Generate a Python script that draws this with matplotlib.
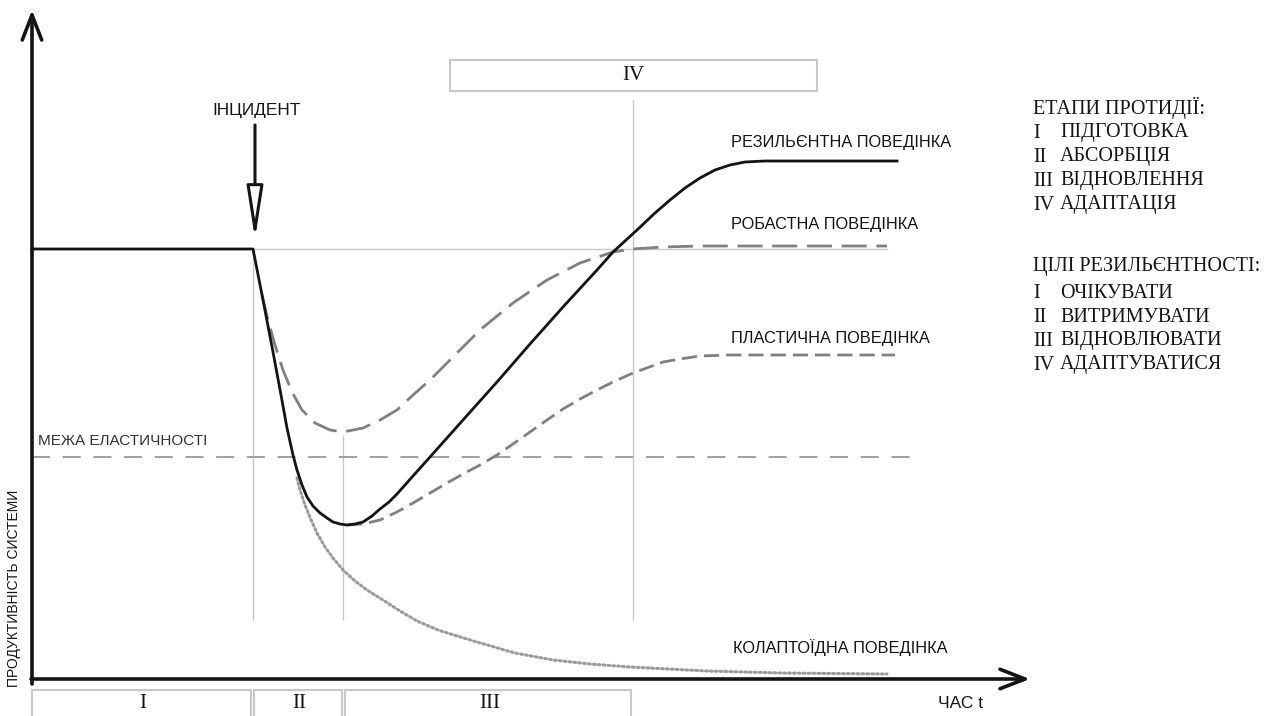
import matplotlib
matplotlib.use("Agg")
import matplotlib.pyplot as plt
from matplotlib.patches import Rectangle

# ---------- data (time t, system performance P) ----------
baseline_t = [0, 221]
baseline_p = [434, 434]

resilient_t = [221, 231, 241, 249, 255, 261, 265, 270, 275, 281, 288, 295, 301, 308, 315,
               323, 331, 340, 348, 357, 365, 373, 381, 398, 431, 465, 498, 531, 565,
               581, 605, 623, 638, 653, 668, 683, 698, 713, 733, 768, 865]
resilient_p = [434, 383, 331, 288, 255, 228, 213, 198, 186, 177, 170, 165, 161, 159, 158,
               159, 161, 167, 174, 181, 189, 198, 207, 226, 263, 301, 339, 376, 413,
               431, 453, 470, 483, 495, 505, 513, 518, 521, 522, 522, 522]

robust_t = [230, 236, 243, 251, 260, 270, 283, 298, 311, 331, 348, 365, 381, 398, 423,
            448, 481, 515, 548, 581, 601, 631, 668, 855]
robust_p = [388, 363, 338, 313, 291, 273, 260, 253, 251, 255, 263, 273, 288, 303, 328,
            353, 380, 403, 420, 431, 434, 436, 437, 437]

plastic_t = [315, 331, 348, 365, 381, 398, 415, 431, 448, 465, 481, 498, 515, 531, 548,
             565, 583, 601, 631, 648, 668, 698, 863]
plastic_p = [158, 159, 163, 171, 180, 190, 200, 209, 218, 228, 239, 251, 263, 274, 284,
             293, 302, 310, 321, 324, 327, 328, 328]

collapse_t = [265, 268, 273, 279, 285, 293, 301, 311, 323, 335, 351, 368, 385, 406, 425,
              445, 483, 521, 558, 598, 675, 751, 855]
collapse_p = [205, 193, 178, 163, 150, 136, 125, 113, 102, 93, 83, 72, 62, 53, 47,
              41, 30, 23, 19, 16, 12, 10, 9]

elastic_limit = 226
elastic_end = 886
incident_t = 221
min_t = 311
adapt_t = 601

phase_names = ["I", "II", "III"]
phase_edges = [0, 222, 313, 602]
phase4_span = [418, 785]

stages_title = "ЕТАПИ ПРОТИДІЇ:"
stages = ["ПІДГОТОВКА", "АБСОРБЦІЯ", "ВІДНОВЛЕННЯ", "АДАПТАЦІЯ"]
goals_title = "ЦІЛІ РЕЗИЛЬЄНТНОСТІ:"
goals = ["ОЧІКУВАТИ", "ВИТРИМУВАТИ", "ВІДНОВЛЮВАТИ", "АДАПТУВАТИСЯ"]
roman = ["I", "II", "III", "IV"]

SANS = ["Liberation Sans", "DejaVu Sans"]
SERIF = ["Liberation Serif", "DejaVu Serif"]
BLACK = "#141414"
GREY = "#808080"
LIGHT = "#c8c8c8"

fig = plt.figure(figsize=(12.75, 7.16), dpi=100)
ax = fig.add_axes([0, 0, 1, 1])
ax.set_xlim(-32, 1243)
ax.set_ylim(-33, 683)
ax.axis("off")

# guide lines
ax.plot([incident_t, robust_t[-1]], [434, 434], color=LIGHT, lw=1.0, zorder=1)
ax.vlines([incident_t], 63, 434, color=LIGHT, lw=1.0, zorder=1)
ax.vlines([min_t], 63, 248, color=LIGHT, lw=1.0, zorder=1)
ax.vlines([adapt_t], 63, 583, color=LIGHT, lw=1.0, zorder=1)
ax.plot([0, elastic_end], [elastic_limit, elastic_limit], color="#999999", lw=1.3,
        linestyle=(0, (10, 7)), zorder=1)

# curves
ax.plot(collapse_t, collapse_p, color="#9a9a9a", lw=2.2, linestyle=(0, (0.6, 1.0)),
        dash_capstyle="round", zorder=2)
ax.plot(plastic_t, plastic_p, color=GREY, lw=2.0, linestyle=(0, (5.5, 2.5)), zorder=2)
ax.plot(robust_t, robust_p, color=GREY, lw=2.0, linestyle=(0, (9, 3.5)), zorder=2)
ax.plot(baseline_t + resilient_t[1:], baseline_p + resilient_p[1:], color=BLACK,
        lw=2.0, zorder=3, solid_joinstyle="round")

# axes arrows
ax.annotate("", xy=(0, 673), xytext=(0, -1),
            arrowprops=dict(arrowstyle="->,head_length=0.9,head_width=0.35",
                            lw=2.6, color=BLACK, mutation_scale=20, shrinkA=0, shrinkB=0))
ax.annotate("", xy=(998, 4), xytext=(-1, 4),
            arrowprops=dict(arrowstyle="->,head_length=0.9,head_width=0.35",
                            lw=2.6, color=BLACK, mutation_scale=20, shrinkA=0, shrinkB=0))

# incident arrow
ax.annotate("", xy=(incident_t + 2, 444), xytext=(incident_t + 2, 558),
            arrowprops=dict(arrowstyle="-|>,head_length=1.6,head_width=0.25",
                            lw=2.2, ec=BLACK, fc="white", mutation_scale=20,
                            shrinkA=0, shrinkB=0))
ax.text(incident_t + 3, 573, "ІНЦИДЕНТ", family=SANS, fontsize=12.4, ha="center",
        va="center", color=BLACK)

# curve labels
LFS = 11.8
ax.text(699, 541, "РЕЗИЛЬЄНТНА ПОВЕДІНКА", family=SANS, fontsize=LFS, va="center", color=BLACK)
ax.text(699, 459, "РОБАСТНА ПОВЕДІНКА", family=SANS, fontsize=LFS, va="center", color=BLACK)
ax.text(699, 345, "ПЛАСТИЧНА ПОВЕДІНКА", family=SANS, fontsize=LFS, va="center", color=BLACK)
ax.text(701, 35, "КОЛАПТОЇДНА ПОВЕДІНКА", family=SANS, fontsize=LFS, va="center", color=BLACK)
ax.text(6, 242, "МЕЖА ЕЛАСТИЧНОСТІ", family=SANS, fontsize=11, va="center", color="#333333")
ax.text(906, -20, "ЧАС t", family=SANS, fontsize=12.5, va="center", color=BLACK)
ax.text(-18, 95, "ПРОДУКТИВНІСТЬ СИСТЕМИ", family=SANS, fontsize=10, rotation=90,
        ha="center", va="center", color=BLACK)

# phase boxes
for name, left, right in zip(phase_names, phase_edges[:-1], phase_edges[1:]):
    ax.add_patch(Rectangle((left, -40), right - left - 3, 33, fill=False,
                           ec=LIGHT, lw=1.5, zorder=1))
    ax.text((left + right) / 2, -20, name, family=SERIF, fontsize=15, ha="center",
            va="center", color=BLACK)
ax.add_patch(Rectangle((phase4_span[0], 592), phase4_span[1] - phase4_span[0], 31,
                       fill=False, ec=LIGHT, lw=1.5, zorder=1))
ax.text(adapt_t, 608, "IV", family=SERIF, fontsize=15, ha="center", va="center", color=BLACK)

# right-hand legend text
FS = 14.5
ax.text(1001, 575, stages_title, family=SERIF, fontsize=FS, va="center", color=BLACK)
for i, (r, s) in enumerate(zip(roman, stages)):
    y = 550 - i * 24
    ax.text(1001, y, r, family=SERIF, fontsize=FS, va="center", color=BLACK)
    ax.text(1028, y, s, family=SERIF, fontsize=FS, va="center", color=BLACK)
ax.text(1001, 417, goals_title, family=SERIF, fontsize=FS, va="center", color=BLACK)
for i, (r, g) in enumerate(zip(roman, goals)):
    y = 390 - i * 24
    ax.text(1001, y, r, family=SERIF, fontsize=FS, va="center", color=BLACK)
    ax.text(1028, y, g, family=SERIF, fontsize=FS, va="center", color=BLACK)

fig.savefig("out.png", dpi=100)
